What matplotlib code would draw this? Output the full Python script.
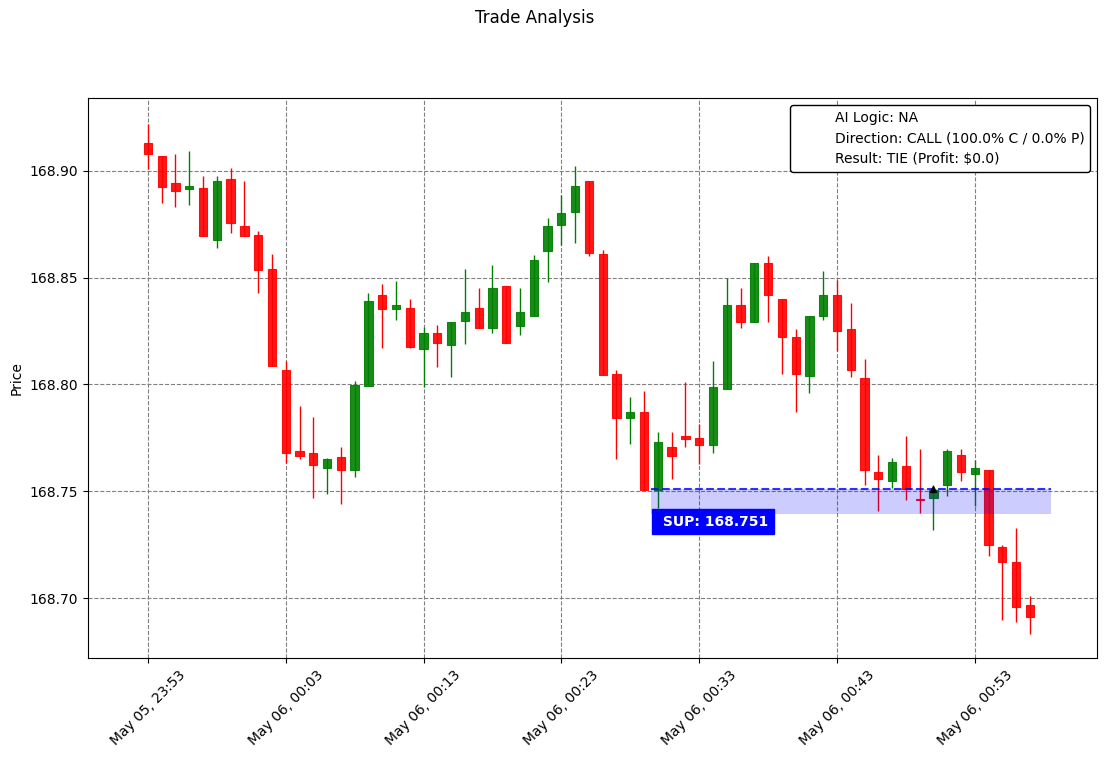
import datetime as dt

import matplotlib
matplotlib.use('Agg')
from matplotlib import pyplot as plt
import matplotlib.dates as mdates
from matplotlib.lines import Line2D
from matplotlib.ticker import FormatStrFormatter
from matplotlib.patches import Rectangle

start = dt.datetime(2025, 5, 5, 23, 53)

opens = [168.913, 168.907, 168.8944, 168.8916, 168.892, 168.8677, 168.8963, 168.8743, 168.870, 168.854,
         168.8069, 168.769, 168.768, 168.761, 168.7662, 168.760, 168.7994, 168.842, 168.8354, 168.8359,
         168.8167, 168.8242, 168.8186, 168.8298, 168.8359, 168.8265, 168.8462, 168.8275, 168.8321, 168.8626,
         168.8747, 168.8808, 168.8953, 168.8612, 168.805, 168.7844, 168.7872, 168.7507, 168.7708, 168.776,
         168.7751, 168.7718, 168.798, 168.8373, 168.829, 168.8569, 168.8401, 168.8223, 168.804, 168.8321,
         168.842, 168.826, 168.8031, 168.7592, 168.7547, 168.7619, 168.7462, 168.7468, 168.7528, 168.7671,
         168.7582, 168.760, 168.7239, 168.7169, 168.6968]
highs = [168.922, 168.907, 168.908, 168.909, 168.8977, 168.8977, 168.9014, 168.8953, 168.8719, 168.8612,
         168.8111, 168.790, 168.7849, 168.7657, 168.7708, 168.8017, 168.843, 168.8471, 168.8485, 168.840,
         168.827, 168.8279, 168.8293, 168.8541, 168.8452, 168.856, 168.8462, 168.8452, 168.8607, 168.878,
         168.8888, 168.9023, 168.8953, 168.863, 168.8069, 168.7942, 168.797, 168.7779, 168.7779, 168.8012,
         168.7816, 168.8111, 168.8497, 168.845, 168.8569, 168.860, 168.8401, 168.8258, 168.8321, 168.8532,
         168.849, 168.8382, 168.8118, 168.7668, 168.7658, 168.776, 168.7697, 168.753, 168.7697, 168.7697,
         168.7648, 168.760, 168.725, 168.7326, 168.7008]
lows = [168.901, 168.885, 168.883, 168.884, 168.8696, 168.864, 168.871, 168.8696, 168.843, 168.8087,
        168.7633, 168.7652, 168.747, 168.7488, 168.7442, 168.7568, 168.7994, 168.8172, 168.8303, 168.8172,
        168.7989, 168.8083, 168.8036, 168.819, 168.8265, 168.8242, 168.8195, 168.8233, 168.8321, 168.848,
        168.865, 168.8663, 168.8602, 168.8045, 168.7652, 168.7722, 168.7507, 168.7423, 168.7559, 168.7708,
        168.7629, 168.768, 168.798, 168.8262, 168.829, 168.8293, 168.8049, 168.7873, 168.7962, 168.8303,
        168.8158, 168.8034, 168.753, 168.741, 168.7514, 168.746, 168.7399, 168.7321, 168.7477, 168.7547,
        168.743, 168.7199, 168.6898, 168.6889, 168.6834]
closes = [168.908, 168.8925, 168.8906, 168.893, 168.8696, 168.8953, 168.8757, 168.8696, 168.8537, 168.8087,
          168.768, 168.7666, 168.7624, 168.7652, 168.760, 168.7998, 168.8392, 168.8354, 168.8373, 168.8176,
          168.8242, 168.8195, 168.8293, 168.834, 168.8265, 168.8452, 168.8195, 168.834, 168.8584, 168.8743,
          168.8803, 168.893, 168.8616, 168.8045, 168.7844, 168.7872, 168.7507, 168.7732, 168.7666, 168.7746,
          168.7718, 168.7989, 168.8373, 168.829, 168.8569, 168.842, 168.8223, 168.8049, 168.8321, 168.842,
          168.8251, 168.8066, 168.7599, 168.7559, 168.7638, 168.7513, 168.7458, 168.7505, 168.769, 168.7589,
          168.761, 168.725, 168.7169, 168.6959, 168.6914]

support = 168.751
zone_low = 168.7395
zone_start_min = 36.5
zone_end_min = 65.5
entry_idx = 57
label_min = 37
label_price = 168.7357

legend_lines = ['AI Logic: NA',
                'Direction: CALL (100.0% C / 0.0% P)',
                'Result: TIE (Profit: $0.0)']

times = [start + dt.timedelta(minutes=i) for i in range(len(opens))]
x = mdates.date2num(times)
one_min = 1.0 / 1440

fig = plt.figure(figsize=(11.05, 7.58), dpi=100)
ax = fig.add_axes([0.0796, 0.1319, 0.9132, 0.7388])

for xi, o, h, l, c in zip(x, opens, highs, lows, closes):
    col = 'green' if c >= o else 'red'
    ax.vlines(xi, l, h, color=col, linewidth=1, zorder=2)
    ax.add_patch(Rectangle((xi - 0.3 * one_min, min(o, c)), 0.6 * one_min, abs(c - o),
                           facecolor=col, edgecolor=col, linewidth=0.8, alpha=0.9, zorder=3))

x0 = x[0] + zone_start_min * one_min
x1 = x[0] + zone_end_min * one_min
ax.add_patch(Rectangle((x0, zone_low), x1 - x0, support - zone_low,
                       facecolor='blue', edgecolor='none', alpha=0.2, zorder=4))
ax.hlines(support, x0, x1, colors='blue', linestyles='--', linewidth=1.5, alpha=0.8, zorder=5)
ax.plot(x[entry_idx], support, marker='^', color='black', markersize=5, zorder=6)
ax.text(x[0] + label_min * one_min, label_price, f' SUP: {support}', color='white',
        fontweight='bold', fontsize=10, va='center', ha='left',
        bbox=dict(facecolor='blue', edgecolor='blue', pad=4), zorder=7)

ax.set_xlim(x[0] - 4.35 * one_min, x[0] + 68.87 * one_min)
ax.set_ylim(168.672, 168.934)
ax.xaxis.set_major_locator(mdates.MinuteLocator(byminute=[3, 13, 23, 33, 43, 53]))
ax.xaxis.set_major_formatter(mdates.DateFormatter('%b %d, %H:%M'))
ax.yaxis.set_major_formatter(FormatStrFormatter('%.2f'))
plt.setp(ax.get_xticklabels(), rotation=45)
ax.set_ylabel('Price')
ax.grid(True, linestyle='--', color='gray', linewidth=0.8)

handles = [Line2D([], [], color='none', label=t) for t in legend_lines]
leg = ax.legend(handles=handles, loc='upper right', framealpha=1)
leg.get_frame().set_edgecolor('black')

fig.suptitle('Trade Analysis', x=0.484, y=0.988)
fig.savefig('out.png')
